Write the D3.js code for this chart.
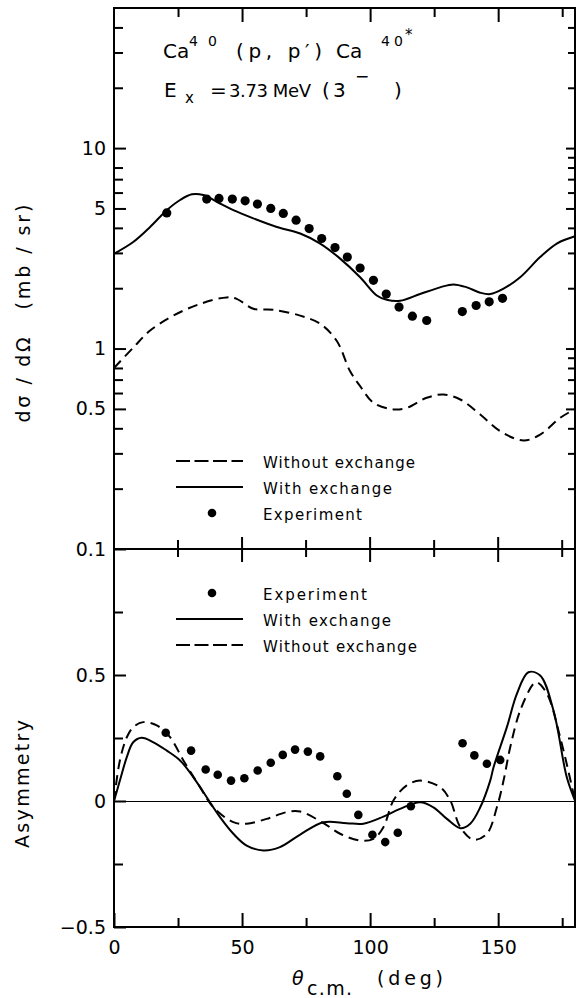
<!DOCTYPE html>
<html>
<head>
<meta charset="utf-8">
<script src="https://cdn.jsdelivr.net/npm/d3@7"></script>
<style>
    body { margin: 0; background: white; }
    text { font-family: "DejaVu Sans", sans-serif; fill: black; }
</style>
</head>
<body>
<div id="container"></div>
<script>
let w = 577;
let h = 998;

// top panel : d(sigma)/d(Omega), mb/sr
let topExpAngle = [20.6, 36.2, 41, 46.2, 51.2, 56, 61.2, 66.1, 71.1, 76.2, 81.1, 86.3, 91.1, 96.1, 101.3, 106.3, 111.3, 116.5, 122.1, 136, 141.4, 146.5, 151.7];
let topExpValue = [4.75, 5.57, 5.61, 5.57, 5.46, 5.26, 5.0, 4.72, 4.37, 3.97, 3.54, 3.19, 2.86, 2.52, 2.19, 1.87, 1.61, 1.45, 1.38, 1.53, 1.64, 1.71, 1.78];

let topWithAngle = [0, 7.5, 14.1, 20.6, 25.8, 30.4, 34.9, 40.1, 46.6, 54.4, 63.6, 72.7, 80.5, 88.3, 96.1, 102.6, 106.5, 111.7, 119.5, 127.3, 132.5, 137.8, 143, 146.9, 152.1, 158.6, 166.4, 172.9, 180];
let topWithValue = [2.97, 3.40, 4.04, 4.90, 5.51, 5.88, 5.83, 5.40, 4.90, 4.46, 4.04, 3.75, 3.34, 2.81, 2.27, 1.84, 1.75, 1.73, 1.87, 2.02, 2.09, 2.02, 1.90, 1.87, 1.99, 2.27, 2.86, 3.34, 3.63];

let topWithoutAngle = [0, 7.5, 14.1, 23.2, 33.6, 44, 47.9, 54.4, 62.2, 72.7, 80.5, 87, 92.2, 96.1, 101.3, 109.1, 114.3, 122.1, 128.6, 135.2, 143, 150.8, 159.9, 166.4, 174.2, 180];
let topWithoutValue = [0.80, 1.01, 1.23, 1.46, 1.67, 1.80, 1.77, 1.58, 1.56, 1.46, 1.33, 1.09, 0.77, 0.65, 0.536, 0.497, 0.506, 0.568, 0.590, 0.557, 0.469, 0.387, 0.348, 0.372, 0.451, 0.499];

// bottom panel : asymmetry
let botExpAngle = [20.2, 30.1, 35.8, 40.5, 45.7, 50.9, 56.1, 61.2, 65.9, 70.7, 75.7, 80.5, 87.2, 90.9, 95.4, 100.9, 105.9, 110.8, 115.9, 136.1, 140.7, 145.6, 150.8];
let botExpValue = [0.271, 0.200, 0.125, 0.104, 0.081, 0.090, 0.121, 0.152, 0.183, 0.204, 0.196, 0.177, 0.098, 0.029, -0.055, -0.134, -0.163, -0.126, -0.021, 0.229, 0.181, 0.148, 0.163];

let botWithAngle = [0, 2.3, 5, 7.5, 10.8, 15.4, 20.6, 25.8, 31, 36.2, 41.4, 46.6, 51.8, 58.3, 64.8, 72.7, 81.8, 90.9, 97.4, 105.2, 111.7, 119.5, 124.7, 130, 135.2, 139.1, 143, 146.9, 148.2, 153.4, 157.3, 161.8, 166.4, 171.6, 176.8, 180];
let botWithValue = [0, 0.081, 0.174, 0.233, 0.251, 0.233, 0.200, 0.161, 0.094, 0.015, -0.064, -0.130, -0.177, -0.196, -0.183, -0.133, -0.084, -0.088, -0.090, -0.062, -0.031, -0.005, -0.025, -0.071, -0.108, -0.090, -0.025, 0.081, 0.134, 0.293, 0.425, 0.511, 0.498, 0.359, 0.094, 0.002];

let botWithoutAngle = [0, 2.3, 5, 7.5, 11.4, 16.7, 21.9, 27.1, 33.6, 38.8, 46.6, 51.8, 59.6, 67.5, 72.7, 81.8, 88.3, 96.1, 101.3, 105.2, 109.1, 114.3, 119.5, 127.3, 131.3, 135.2, 140.4, 145.6, 149.5, 152.1, 154.7, 158.6, 163.8, 165.2, 169.1, 174.2, 179.4, 180];
let botWithoutValue = [0, 0.161, 0.253, 0.293, 0.313, 0.300, 0.253, 0.161, 0.055, -0.025, -0.084, -0.090, -0.071, -0.044, -0.042, -0.088, -0.130, -0.157, -0.150, -0.104, 0.002, 0.062, 0.081, 0.055, 0.002, -0.104, -0.154, -0.130, -0.025, 0.081, 0.213, 0.359, 0.465, 0.471, 0.425, 0.253, 0.029, 0];

// ticks
let xMajor = [0, 50, 100, 150];
let xMinor = [25, 75, 125, 175];
let topMajor = [0.1, 0.5, 1, 5, 10];
let topMajorLabels = ["0.1", "0.5", "1", "5", "10"];
let topMinor = [0.2, 0.3, 0.4, 0.6, 0.7, 0.8, 2, 3, 4, 6, 7, 8, 20, 30, 40];
let botMajor = [-0.5, 0, 0.5];
let botMajorLabels = ["\u22120.5", "0", "0.5"];
let botMinor = [-0.25, 0.25, 0.75];

let topLegend = ["Without exchange", "With exchange", "Experiment"];
let botLegend = ["Experiment", "With exchange", "Without exchange"];

let pLeft = 114, pRight = 575, pTop = 8, pMid = 549, pBottom = 927;

let x = d3.scaleLinear().domain([0, 180]).range([pLeft, pRight]);
let yTop = d3.scaleLog().domain([0.1, 50]).range([pMid, pTop]);
let yBot = d3.scaleLinear().domain([-0.5, 1]).range([pBottom, pMid]);

let viz = d3.select("#container").append("svg")
    .attr("width", w)
    .attr("height", h)
    .style("background-color", "white");

function zip(a, b) {
    return a.map((d, i) => [d, b[i]]);
}

function styleAxis(g, size) {
    g.select(".domain").remove();
    g.selectAll("line").attr("stroke", "black").attr("stroke-width", 2);
    g.selectAll("text").style("font-size", size + "px").attr("fill", "black")
        .style("font-family", "'DejaVu Sans', sans-serif");
}

// frame
viz.append("rect")
    .attr("x", pLeft).attr("y", pTop)
    .attr("width", pRight - pLeft).attr("height", pBottom - pTop)
    .attr("fill", "none").attr("stroke", "black").attr("stroke-width", 2);
viz.append("line")
    .attr("x1", pLeft).attr("x2", pRight).attr("y1", pMid).attr("y2", pMid)
    .attr("stroke", "black").attr("stroke-width", 2);
// zero line
viz.append("line")
    .attr("x1", pLeft).attr("x2", pRight).attr("y1", yBot(0) + 0.5).attr("y2", yBot(0) + 0.5)
    .attr("stroke", "black").attr("stroke-width", 1.2);

// left axis, top panel
viz.append("g").attr("transform", `translate(${pLeft},0)`)
    .call(d3.axisLeft(yTop).tickValues(topMajor).tickSize(-12).tickPadding(8)
        .tickFormat((d, i) => topMajorLabels[i]))
    .call(g => styleAxis(g, 19));
viz.append("g").attr("transform", `translate(${pLeft},0)`)
    .call(d3.axisLeft(yTop).tickValues(topMinor).tickSize(-9).tickFormat(""))
    .call(g => styleAxis(g, 19));
// right axis, top panel
viz.append("g").attr("transform", `translate(${pRight},0)`)
    .call(d3.axisLeft(yTop).tickValues(topMajor.slice(1)).tickSize(9).tickFormat(""))
    .call(g => styleAxis(g, 19));
viz.append("g").attr("transform", `translate(${pRight},0)`)
    .call(d3.axisLeft(yTop).tickValues(topMinor.concat([0.9, 9])).tickSize(7).tickFormat(""))
    .call(g => styleAxis(g, 19));

// left axis, bottom panel
viz.append("g").attr("transform", `translate(${pLeft},0)`)
    .call(d3.axisLeft(yBot).tickValues(botMajor).tickSize(-12).tickPadding(8)
        .tickFormat((d, i) => botMajorLabels[i]))
    .call(g => styleAxis(g, 19));
viz.append("g").attr("transform", `translate(${pLeft},0)`)
    .call(d3.axisLeft(yBot).tickValues(botMinor).tickSize(-9).tickFormat(""))
    .call(g => styleAxis(g, 19));
viz.append("g").attr("transform", `translate(${pRight},0)`)
    .call(d3.axisLeft(yBot).tickValues([0.5]).tickSize(9).tickFormat(""))
    .call(g => styleAxis(g, 19));
viz.append("g").attr("transform", `translate(${pRight},0)`)
    .call(d3.axisLeft(yBot).tickValues(botMinor).tickSize(7).tickFormat(""))
    .call(g => styleAxis(g, 19));

// top edge ticks
viz.append("g").attr("transform", `translate(0,${pTop})`)
    .call(d3.axisBottom(x).tickValues(xMajor.slice(1)).tickSize(14).tickFormat(""))
    .call(g => styleAxis(g, 19));
viz.append("g").attr("transform", `translate(0,${pTop})`)
    .call(d3.axisBottom(x).tickValues(xMinor).tickSize(9).tickFormat(""))
    .call(g => styleAxis(g, 19));

// middle ticks, crossing the shared line
viz.selectAll(".midtick").data(xMajor.slice(1).concat(xMinor)).enter()
    .append("line")
    .attr("class", "midtick")
    .attr("x1", d => x(d)).attr("x2", d => x(d))
    .attr("y1", d => pMid - (d % 50 === 0 ? 12 : 9))
    .attr("y2", d => pMid + (d % 50 === 0 ? 13 : 8))
    .attr("stroke", "black").attr("stroke-width", 2);

// bottom axis
viz.append("g").attr("transform", `translate(0,${pBottom})`)
    .call(d3.axisBottom(x).tickValues(xMajor).tickSize(-14).tickPadding(14))
    .call(g => styleAxis(g, 19));
viz.append("g").attr("transform", `translate(0,${pBottom})`)
    .call(d3.axisBottom(x).tickValues(xMinor).tickSize(-9).tickFormat(""))
    .call(g => styleAxis(g, 19));

// curves
let lineTop = d3.line().x(d => x(d[0])).y(d => yTop(d[1])).curve(d3.curveCatmullRom);
let lineBot = d3.line().x(d => x(d[0])).y(d => yBot(d[1])).curve(d3.curveCatmullRom);

viz.append("path").datum(zip(topWithAngle, topWithValue))
    .attr("d", lineTop).attr("fill", "none").attr("stroke", "black").attr("stroke-width", 2);
viz.append("path").datum(zip(topWithoutAngle, topWithoutValue))
    .attr("d", lineTop).attr("fill", "none").attr("stroke", "black").attr("stroke-width", 2)
    .attr("stroke-dasharray", "10,6");
viz.append("path").datum(zip(botWithAngle, botWithValue))
    .attr("d", lineBot).attr("fill", "none").attr("stroke", "black").attr("stroke-width", 2);
viz.append("path").datum(zip(botWithoutAngle, botWithoutValue))
    .attr("d", lineBot).attr("fill", "none").attr("stroke", "black").attr("stroke-width", 2)
    .attr("stroke-dasharray", "10,6");

viz.selectAll(".topdot").data(zip(topExpAngle, topExpValue)).enter()
    .append("circle").attr("class", "topdot")
    .attr("cx", d => x(d[0])).attr("cy", d => yTop(d[1])).attr("r", 4.6)
    .attr("fill", "black");
viz.selectAll(".botdot").data(zip(botExpAngle, botExpValue)).enter()
    .append("circle").attr("class", "botdot")
    .attr("cx", d => x(d[0])).attr("cy", d => yBot(d[1])).attr("r", 4.3)
    .attr("fill", "black");

// legends
function legend(labels, y0, widths) {
    let g = viz.append("g");
    labels.forEach((lab, i) => {
        let y = y0 + i * 26;
        if (lab === "Experiment") {
            g.append("circle").attr("cx", 212).attr("cy", y).attr("r", 4.3).attr("fill", "black");
        } else {
            g.append("line").attr("x1", 176).attr("x2", 243).attr("y1", y).attr("y2", y)
                .attr("stroke", "black").attr("stroke-width", 2)
                .attr("stroke-dasharray", lab === "Without exchange" ? "14,4.5" : null);
        }
        g.append("text").attr("x", 263).attr("y", y + 7)
            .attr("textLength", widths[i]).attr("lengthAdjust", "spacing")
            .style("font-size", "15px")
            .text(lab);
    });
}
legend(topLegend, 461, [152, 129, 99]);
legend(botLegend, 593, [104, 128, 154]);

// title, pieces placed one by one
function piece(str, px, py, size, len) {
    let t = viz.append("text").attr("x", px).attr("y", py).style("font-size", size + "px").text(str);
    if (len) t.attr("textLength", len).attr("lengthAdjust", "spacing");
    return t;
}
piece("Ca", 163, 58, 20);
piece("40", 189, 46, 14, 28);
piece("(p, p\u2032)", 236, 58, 20, 86);
piece("Ca", 336, 58, 20);
piece("40", 381, 46, 14, 22);
piece("*", 405, 40, 15);

piece("E", 164, 97, 20);
piece("x", 185, 103, 15);
piece("=", 210, 97, 20);
piece("3.73 MeV", 229, 97, 18, 82);
piece("(", 322, 97, 20);
piece("3", 333, 97, 20);
piece("\u2212", 355, 82, 17);
piece(")", 394, 97, 20);

// axis titles
viz.append("text")
    .attr("transform", "translate(30,257) rotate(-90)")
    .attr("text-anchor", "middle")
    .attr("textLength", 105).attr("lengthAdjust", "spacing")
    .style("font-size", "19px")
    .text("(mb / sr)");
viz.append("text")
    .attr("transform", "translate(30,380) rotate(-90)")
    .attr("text-anchor", "middle")
    .attr("textLength", 85).attr("lengthAdjust", "spacing")
    .style("font-size", "19px")
    .text("d\u03c3 / d\u03a9");
viz.append("text")
    .attr("transform", "translate(29,784) rotate(-90)")
    .attr("text-anchor", "middle")
    .attr("textLength", 128).attr("lengthAdjust", "spacing")
    .style("font-size", "19px")
    .text("Asymmetry");

let xt = viz.append("text").attr("y", 985).style("font-size", "19px");
xt.append("tspan").attr("x", 292).style("font-style", "italic").text("\u03b8");
xt.append("tspan").attr("x", 307).attr("dy", 10).attr("textLength", 45).text("c.m.");
xt.append("tspan").attr("x", 377).attr("dy", -10).attr("textLength", 66).text("(deg)");
</script>
</body>
</html>
